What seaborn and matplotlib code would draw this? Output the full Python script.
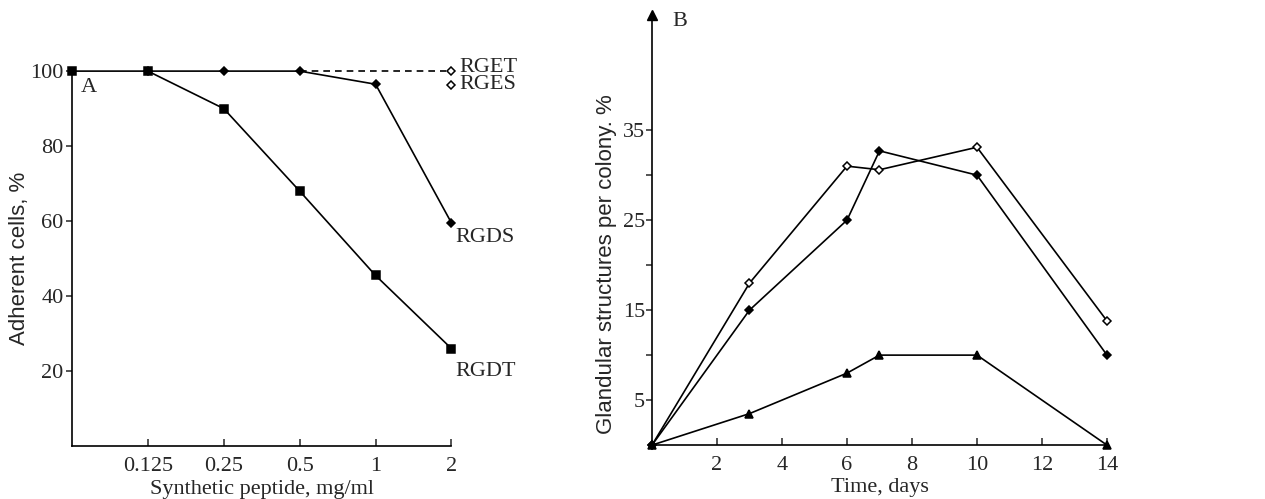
import pandas as pd
import matplotlib.pyplot as plt
import seaborn as sns

# Panel A: adhesion vs synthetic peptide concentration
dose_labels = ['0.125', '0.25', '0.5', '1', '2']
rgdt_pos = [0, 1, 2, 3, 4, 5]
rgdt_vals = [100, 100, 90, 68, 45.5, 26]
rgds_pos = [1, 2, 3, 4, 5]
rgds_vals = [100, 100, 100, 96.5, 59.5]
rget_pos = [3, 5]
rget_vals = [100, 100]
rges_pos = [5]
rges_vals = [96.3]

# Panel B: glandular structures over time
days = [0, 3, 6, 7, 10, 14]
open_vals = [0, 18, 31, 30.6, 33.1, 13.8]
filled_vals = [0, 15, 25, 32.7, 30, 10]
triangle_vals = [0, 3.5, 8, 10, 10, 0]

main_font = 'Liberation Serif'
label_font = 'Liberation Sans'
fs = 16


def draw_series(ax, x, y, marker, ms, filled=True, ls='-'):
    df = pd.DataFrame({'x': x, 'y': y})
    sns.lineplot(data=df, x='x', y='y', ax=ax, color='black', lw=1.2,
                 linestyle=ls, marker=marker, markersize=ms,
                 markerfacecolor='black' if filled else 'white',
                 markeredgecolor='black', markeredgewidth=1.1,
                 clip_on=False, zorder=3)


def main():
    sns.set_style('white')
    plt.rcParams['font.family'] = [main_font, 'DejaVu Serif']
    plt.rcParams['font.size'] = fs

    fig = plt.figure(figsize=(12.65, 4.99), dpi=100)

    # ---- panel A
    axA = fig.add_axes([0.0569, 0.106, 0.300, 0.7515])
    draw_series(axA, rgdt_pos, rgdt_vals, 's', 6)
    draw_series(axA, rgds_pos, rgds_vals, 'D', 4)
    draw_series(axA, rget_pos[:1] + [4.93], rget_vals, None, 0, ls=(0, (4, 3)))
    draw_series(axA, rget_pos[1:], rget_vals[1:], 'D', 4.5, filled=False)
    draw_series(axA, rges_pos, rges_vals, 'D', 4.5, filled=False)

    axA.set_xlim(0, 5)
    axA.set_ylim(0, 100)
    axA.set_xticks(range(1, 6))
    axA.set_xticklabels(dose_labels)
    axA.set_yticks([20, 40, 60, 80, 100])
    axA.set_yticklabels(['20', '40', '60', '80', '100'])
    axA.tick_params(axis='x', direction='in', length=5, width=1.1, pad=8,
                    bottom=True, labelsize=fs)
    axA.tick_params(axis='y', direction='out', length=4, width=1.1, pad=2,
                    left=True, labelsize=fs)
    axA.set_xlabel('Synthetic peptide, mg/ml', fontsize=fs, labelpad=3)
    axA.set_ylabel('Adherent cells, %', fontsize=fs, family=label_font)
    axA.yaxis.set_label_coords(-0.11, 0.5)

    axA.text(5.1, 101, 'RGET', va='center', ha='left', fontsize=fs)
    axA.text(5.1, 96.3, 'RGES', va='center', ha='left', fontsize=fs)
    axA.text(5.05, 55.5, 'RGDS', va='center', ha='left', fontsize=fs)
    axA.text(5.05, 20, 'RGDT', va='center', ha='left', fontsize=fs)
    axA.text(0.12, 95.5, 'A', va='center', ha='left', fontsize=fs)

    # ---- panel B
    axB = fig.add_axes([0.5154, 0.108, 0.3597, 0.862])
    draw_series(axB, days, open_vals, 'D', 4.5, filled=False)
    draw_series(axB, days, filled_vals, 'D', 4.5)
    draw_series(axB, days, triangle_vals, '^', 6)

    axB.set_xlim(0, 14)
    axB.set_ylim(0, 47.8)
    axB.set_xticks([2, 4, 6, 8, 10, 12, 14])
    axB.set_xticklabels(['2', '4', '6', '8', '10', '12', '14'])
    axB.set_yticks([5, 10, 15, 20, 25, 30, 35])
    axB.set_yticklabels(['5', '', '15', '', '25', '', '35'])
    axB.tick_params(axis='x', direction='in', length=5, width=1.1, pad=8,
                    bottom=True, labelsize=fs)
    axB.tick_params(axis='y', direction='out', length=4, width=1.1, pad=1,
                    left=True, labelsize=fs)
    axB.set_xlabel('Time, days', fontsize=fs, labelpad=2)
    axB.set_ylabel('Glandular structures per colony. %', fontsize=fs,
                   family=label_font)
    axB.yaxis.set_label_coords(-0.076, 0.42)
    axB.plot([0], [1], marker='^', color='black', markersize=7,
             transform=axB.transAxes, clip_on=False)
    axB.text(0.045, 0.985, 'B', transform=axB.transAxes, va='center',
             ha='left', fontsize=fs)

    for ax in (axA, axB):
        sns.despine(ax=ax)
        for side in ('left', 'bottom'):
            ax.spines[side].set_color('black')
            ax.spines[side].set_linewidth(1.2)
        ax.set_facecolor('white')

    fig.savefig('out.png', dpi=100, facecolor='white')


main()
